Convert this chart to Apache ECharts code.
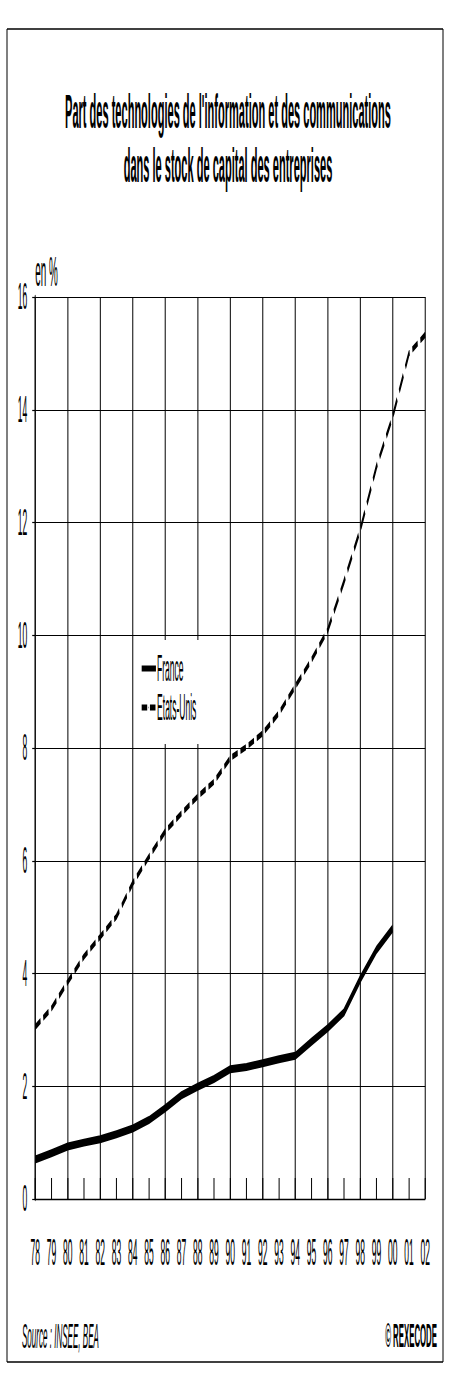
<!DOCTYPE html>
<html>
<head>
<meta charset="utf-8">
<title>Part des TIC dans le stock de capital</title>
<script src="https://cdn.jsdelivr.net/npm/echarts@6/dist/echarts.min.js"></script>
<style>
  html, body { margin: 0; padding: 0; background: #fff; overflow: hidden; }
  /* le graphique d'origine est très comprimé horizontalement :
     on le dessine large puis on le resserre */
  #chart { width: 1960px; height: 1393px; transform-origin: 0 0; }
</style>
</head>
<body>
<div id="chart"></div>
<script>
// années (axe des x)
var years = ['78', '79', '80', '81', '82', '83', '84', '85', '86', '87', '88', '89', '90',
  '91', '92', '93', '94', '95', '96', '97', '98', '99', '00', '01', '02'];
// part des TIC, en %
var france = [0.70, 0.81, 0.93, 1.00, 1.06, 1.15, 1.25, 1.40, 1.61, 1.84, 1.99, 2.13, 2.30,
  2.34, 2.41, 2.48, 2.54, 2.79, 3.03, 3.31, 3.90, 4.42, 4.80, null, null];
var etatsUnis = [3.05, 3.38, 3.85, 4.30, 4.65, 5.01, 5.60, 6.07, 6.52, 6.84, 7.14, 7.40, 7.82,
  8.02, 8.26, 8.62, 9.09, 9.56, 10.09, 10.95, 11.87, 12.99, 13.88, 15.00, 15.33];
var seriesNames = ['France', 'Etats-Unis'];

var W = 1960
var SX = 451 / W
var dom = document.getElementById('chart')
dom.style.transform = 'scaleX(' + SX + ')'
// largeur écran -> largeur dessin
function px(v) { return v / SX }
var vLine = 1 / SX   // trait vertical de 1px à l'écran
var font = "'Liberation Sans', Arial, sans-serif"
var dash = [24, 12]

var chart = echarts.init(dom, null, { renderer: 'svg' })

var option = {
  animation: false,
  title: {
    text: 'Part des technologies de l\'information et des communications\ndans le stock de capital des entreprises',
    left: px(228),
    top: 84,
    textAlign: 'center',
    padding: 0,
    textStyle: { fontFamily: font, fontSize: 48, fontWeight: 'bold', lineHeight: 54, color: '#000' }
  },
  legend: {
    orient: 'vertical',
    left: px(135),
    top: 640,
    padding: [10, 83, 18, 26],
    backgroundColor: '#fff',
    itemWidth: 62,
    // petite hauteur : le symbole rond de la légende disparaît sous le trait
    itemHeight: 2,
    itemGap: 2,
    lineStyle: { width: 6 },
    textStyle: { fontFamily: font, fontSize: 37, lineHeight: 36, color: '#000' },
    data: [
      { name: seriesNames[0], lineStyle: { width: 6, type: 'solid' } },
      { name: seriesNames[1], lineStyle: { width: 6, type: dash, dashOffset: 0 } }
    ]
  },
  grid: { left: 153, right: 112, top: 297, bottom: 194 },
  xAxis: {
    type: 'category',
    data: years,
    boundaryGap: false,
    axisLine: { lineStyle: { color: '#000', width: 1.3 } },
    axisTick: { show: true, inside: true, length: 21, interval: 0, lineStyle: { color: '#000', width: vLine } },
    axisLabel: { interval: 0, margin: 35, fontFamily: font, fontSize: 37, color: '#000' },
    splitLine: {
      show: true,
      interval: function (i) { return i % 2 === 0 },
      lineStyle: { color: '#000', width: vLine }
    }
  },
  yAxis: {
    type: 'value',
    min: 0,
    max: 16,
    interval: 2,
    name: 'en %',
    nameLocation: 'end',
    nameGap: 4,
    nameTextStyle: { fontFamily: font, fontSize: 43, lineHeight: 43, align: 'left', verticalAlign: 'bottom', color: '#000' },
    axisLine: { show: true, lineStyle: { color: '#000', width: vLine } },
    axisTick: { show: true, length: px(3), lineStyle: { color: '#000', width: 1.2 } },
    axisLabel: { margin: px(8), fontFamily: font, fontSize: 37, color: '#000' },
    splitLine: { lineStyle: { color: '#000', width: 1.2 } }
  },
  series: [
    {
      name: seriesNames[0],
      type: 'line',
      data: france,
      symbol: 'none',
      connectNulls: false,
      lineStyle: { color: '#000', width: 8, join: 'round' },
      itemStyle: { color: '#000' },
      z: 3
    },
    {
      name: seriesNames[1],
      type: 'line',
      data: etatsUnis,
      symbol: 'none',
      lineStyle: { color: '#000', width: 6, type: dash, cap: 'butt' },
      itemStyle: { color: '#000' },
      z: 3
    }
  ],
  graphic: [
    // cadre
    { type: 'line', shape: { x1: px(7), y1: 29, x2: px(443), y2: 29 }, style: { stroke: '#000', lineWidth: 1.3 } },
    { type: 'line', shape: { x1: px(7), y1: 1362, x2: px(443), y2: 1362 }, style: { stroke: '#000', lineWidth: 1.3 } },
    { type: 'line', shape: { x1: px(7), y1: 29, x2: px(7), y2: 1362 }, style: { stroke: '#000', lineWidth: vLine } },
    { type: 'line', shape: { x1: px(443), y1: 29, x2: px(443), y2: 1362 }, style: { stroke: '#000', lineWidth: vLine } },
    {
      type: 'text', left: px(22), top: 1318,
      style: { text: 'Source : INSEE, BEA', fontFamily: font, fontSize: 35, fontStyle: 'italic', fill: '#000' }
    },
    {
      type: 'text', right: W - px(437), top: 1318,
      style: { text: '© REXECODE', fontFamily: font, fontSize: 34, fontWeight: 'bold', fill: '#000' }
    }
  ]
}

chart.setOption(option)
</script>
</body>
</html>
